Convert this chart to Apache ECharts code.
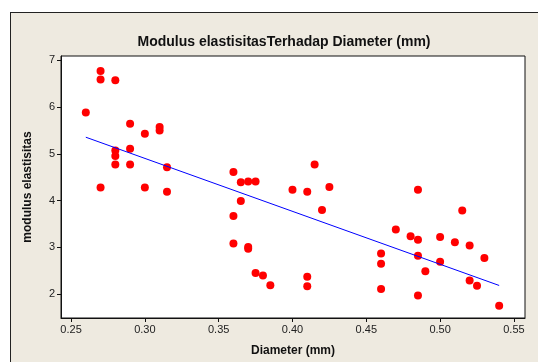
<!DOCTYPE html>
<html><head><meta charset="utf-8">
<script src="https://cdn.jsdelivr.net/npm/echarts@6/dist/echarts.min.js"></script>
<style>
html,body{margin:0;padding:0;background:#fff;overflow:hidden;}
#frame{position:absolute;left:10px;top:12px;width:540px;height:360px;background:#EEEAE0;border:1px solid #222;}
#chart{position:absolute;left:0;top:0;width:538px;height:362px;}
</style></head>
<body>
<div id="frame"></div>
<div id="chart"></div>
<script>
const diameter = [0.26,0.27,0.27,0.28,0.27,0.28,0.28,0.28,0.29,0.29,0.29,0.30,0.30,0.31,0.31,0.315,0.315,
  0.36,0.365,0.37,0.375,0.365,0.36,0.36,0.37,0.37,0.375,0.38,0.385,0.40,0.41,0.415,0.425,0.42,0.41,0.41,
  0.485,0.515,0.47,0.48,0.485,0.50,0.51,0.52,0.53,0.46,0.46,0.485,0.50,0.49,0.52,0.525,0.46,0.485,0.54];
const modulus = [5.88,6.77,6.59,6.57,4.28,5.07,4.95,4.77,5.64,5.11,4.77,5.43,4.28,5.57,5.50,4.71,4.19,
  4.61,4.39,4.41,4.41,3.99,3.67,3.08,3.01,2.97,2.45,2.40,2.19,4.23,4.19,4.77,4.29,3.80,2.37,2.17,
  4.23,3.79,3.38,3.24,3.16,3.22,3.11,3.04,2.77,2.87,2.65,2.82,2.69,2.49,2.29,2.18,2.11,1.97,1.75];
const xTicks = [0.25,0.30,0.35,0.40,0.45,0.50,0.55];
const yTicks = [2,3,4,5,6,7];

// least-squares fit line
const n = diameter.length;
const mx = diameter.reduce((a,b)=>a+b,0)/n;
const my = modulus.reduce((a,b)=>a+b,0)/n;
let sxy=0,sxx=0;
for(let i=0;i<n;i++){sxy+=(diameter[i]-mx)*(modulus[i]-my);sxx+=(diameter[i]-mx)**2;}
const slope=sxy/sxx, icpt=my-slope*mx;
const xmin=Math.min(...diameter), xmax=Math.max(...diameter);
const fit=[[xmin,icpt+slope*xmin],[xmax,icpt+slope*xmax]];

const chart = echarts.init(document.getElementById('chart'));
chart.setOption({
  backgroundColor:'transparent',
  animation:false,
  title:{text:'Modulus elastisitasTerhadap Diameter (mm)',left:279,top:30,textAlign:'center',
    textStyle:{fontFamily:'Liberation Sans, Arial',fontSize:14,fontWeight:'bold',color:'#111'}},
  grid:{left:61,top:56,right:13,bottom:43,show:true,backgroundColor:'#fff',borderColor:'#111',borderWidth:1},
  xAxis:{type:'value',min:0.2432,max:0.5575,
    name:'Diameter (mm)',nameLocation:'middle',nameGap:27,
    nameTextStyle:{fontFamily:'Liberation Sans, Arial',fontSize:12,fontWeight:'bold',color:'#111'},
    splitLine:{show:false},
    axisLine:{show:true,lineStyle:{color:'#111'}},
    axisTick:{show:true,length:4,customValues:xTicks,lineStyle:{color:'#111'}},
    axisLabel:{customValues:xTicks,fontFamily:'Liberation Sans, Arial',fontSize:11,color:'#222',margin:6,
      formatter:v=>v.toFixed(2)}},
  yAxis:{type:'value',min:1.49,max:7.09,
    name:'modulus elastisitas',nameLocation:'middle',nameGap:27,
    nameTextStyle:{fontFamily:'Liberation Sans, Arial',fontSize:12,fontWeight:'bold',color:'#111'},
    splitLine:{show:false},
    axisLine:{show:true,lineStyle:{color:'#111'}},
    axisTick:{show:true,length:4,customValues:yTicks,lineStyle:{color:'#111'}},
    axisLabel:{customValues:yTicks,fontFamily:'Liberation Sans, Arial',fontSize:11,color:'#222',margin:6}},
  series:[
    {type:'scatter',data:diameter.map((d,i)=>[d,modulus[i]]),symbolSize:8,
      itemStyle:{color:'#FF0000',opacity:1}},
    {type:'line',data:fit,showSymbol:false,lineStyle:{color:'#0000FF',width:1},z:3}
  ]
});
</script>
</body></html>
